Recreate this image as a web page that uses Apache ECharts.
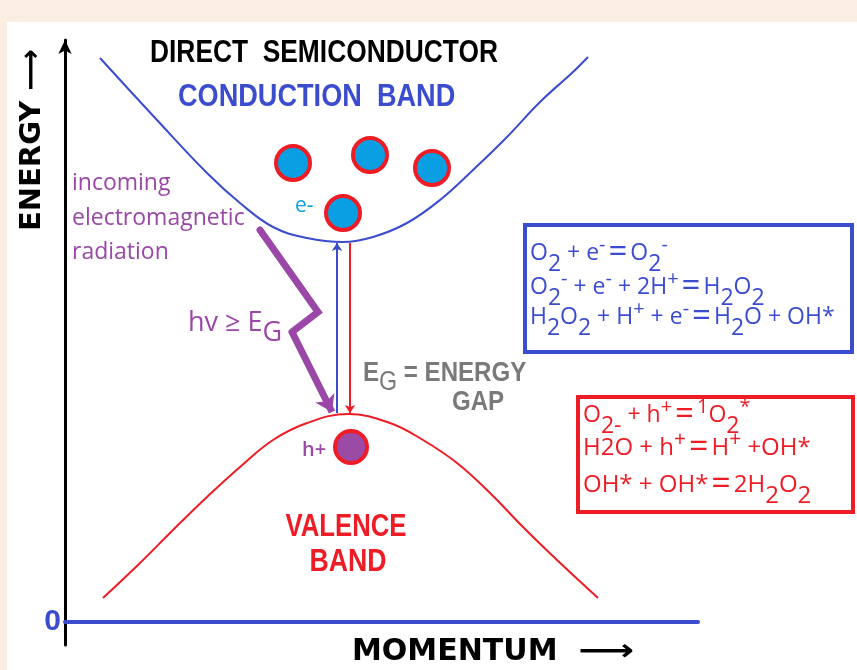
<!DOCTYPE html>
<html><head><meta charset="utf-8">
<script src="https://cdn.jsdelivr.net/npm/echarts@6/dist/echarts.min.js"></script>
<style>html,body{margin:0;padding:0;background:#FAEDE2;}#c{width:857px;height:670px;}</style>
</head><body><div id="c"></div>
<script>
// Diagram data (momentum on x, energy on y; origin at the axes' crossing)
const conductionBand = [[35,564],[92,502],[142,449],[175,419],[208,395],[242,384],[278,380],[308,385],[342,399],[375,422],[408,452],[442,485],[475,520],[508,550],[523,565]];
const valenceBand = [[38,24],[75,59],[108,92],[142,125],[175,155],[208,182],[242,199],[283,208],[325,199],[358,182],[392,159],[425,129],[458,95],[492,62],[533,24]];
const electrons = [[228,459],[305,467],[367,454],[278,409]];
const holes = [[286,175]];
const absorption = [[272,209],[272,379]];
const emission = [[285,379],[285,209]];
const photonPath = [[195,392],[253,310],[227,290],[267,210]];
const energyTicks = [0];

const BLUE = '#3b4ccf', RED = '#ee1c25', PURPLE = '#9a47a8', GREY = '#7a7a7a', CYAN = '#0a9fe3';
const ARIAL = '"Liberation Sans",Arial,sans-serif';
const HUM = '"Open Sans",sans-serif';

function richSet(color, size) {
  return {
    n: {fill: color, color: color, fontSize: size, fontFamily: HUM, lineHeight: 40},
    s: {fill: color, color: color, fontSize: size, fontFamily: HUM, lineHeight: 40, padding: [23,0,0,0]},
    p: {fill: color, color: color, fontSize: size - 3, fontFamily: HUM, lineHeight: 40, padding: [0,0,16,0]},
    q: {fill: color, color: color, fontSize: size + 10, fontFamily: HUM, lineHeight: 40, padding: [0,3,0,3]}
  };
}
function rtext(x, y, text, color, size) {
  return {type: 'text', x: x, y: y, z: 50,
    style: {text: text, textVerticalAlign: 'middle', textAlign: 'left', rich: richSet(color, size), fill: color, font: size + 'px ' + HUM}};
}
function ptext(x, y, text, color, font, align, sx) {
  return {type: 'text', x: x, y: y, z: 50, scaleX: sx || 1,
    style: {text: text, fill: color, font: font, textVerticalAlign: 'middle', textAlign: align || 'left'}};
}

const chart = echarts.init(document.getElementById('c'), null, {renderer: 'canvas'});
const option = {
  backgroundColor: '#FAEDE2',
  animation: false,
  grid: {left: 65, right: 159, top: 40, bottom: 25},
  xAxis: {type: 'value', min: 0, max: 633, splitLine: {show: false},
    axisLine: {show: true, onZero: true, lineStyle: {color: BLUE, width: 4}},
    axisTick: {show: false}, axisLabel: {show: false}},
  yAxis: {type: 'value', min: -23, max: 582, splitLine: {show: false},
    axisLine: {show: true, lineStyle: {color: '#000', width: 3}, symbol: ['none', 'arrow'], symbolSize: [10, 14]},
    axisTick: {show: false},
    axisLabel: {show: true, color: BLUE, fontFamily: ARIAL, fontWeight: 'bold', fontSize: 30, margin: 4,
      formatter: v => energyTicks.indexOf(v) >= 0 ? String(v) : ''}},
  graphic: [
    {type: 'rect', shape: {x: 7, y: 22, width: 850, height: 648}, style: {fill: '#fff'}, z: -100},
    ptext(150, 53, 'DIRECT  SEMICONDUCTOR', '#000', 'bold 31px ' + ARIAL, 'left', 0.85),
    ptext(178, 97, 'CONDUCTION  BAND', BLUE, 'bold 31px ' + ARIAL, 'left', 0.875),
    ptext(72, 183, 'incoming', PURPLE, '23px ' + HUM),
    ptext(72, 218, 'electromagnetic', PURPLE, '23px ' + HUM),
    ptext(72, 252, 'radiation', PURPLE, '23px ' + HUM),
    ptext(295, 206, 'e-', CYAN, '21px ' + HUM),
    ptext(302, 450, 'h+', PURPLE, '600 20px ' + HUM),
    {type: 'text', x: 188, y: 323, z: 50, style: {text: '{n|hv ≥ E}{s|G}', textVerticalAlign: 'middle',
      rich: {n: {fill: PURPLE, fontSize: 27, fontFamily: HUM, lineHeight: 40},
             s: {fill: PURPLE, fontSize: 27, fontFamily: HUM, lineHeight: 40, padding: [20,0,0,0]}}}},
    {type: 'text', x: 363, y: 373, z: 50, scaleX: 0.86, style: {text: '{n|E}{s|G}{n| = ENERGY}', textVerticalAlign: 'middle',
      rich: {n: {fill: GREY, fontSize: 28, fontFamily: ARIAL, fontWeight: 'bold', lineHeight: 40},
             s: {fill: GREY, fontSize: 27, fontFamily: ARIAL, lineHeight: 40, padding: [20,0,0,0]}}}},
    ptext(478, 402, 'GAP', GREY, 'bold 28px ' + ARIAL, 'center', 0.86),
    ptext(346, 527, 'VALENCE', RED, 'bold 31px ' + ARIAL, 'center', 0.83),
    ptext(348, 562, 'BAND', RED, 'bold 31px ' + ARIAL, 'center', 0.86),
    {type: 'text', x: 32, y: 140, rotation: Math.PI / 2, z: 50,
      style: {text: 'ENERGY ⟶', fill: '#000', font: 'bold 29px "DejaVu Sans"', textAlign: 'center', textVerticalAlign: 'middle'}},
    ptext(352, 652, 'MOMENTUM', '#000', 'bold 30px "DejaVu Sans"'),
    ptext(578, 652, '⟶', '#000', 'bold 30px "DejaVu Sans"', 'left', 1.3),
    {type: 'rect', shape: {x: 525, y: 225, width: 327, height: 127}, style: {fill: 'none', stroke: BLUE, lineWidth: 4}, z: 40},
    rtext(530, 253, '{n|O}{s|2}{n| + e}{p|-}{q|=}{n|O}{s|2}{p|-}', BLUE, 23),
    rtext(530, 287, '{n|O}{s|2}{p|-}{n| + e}{p|-}{n| + 2H}{p|+}{q|=}{n|H}{s|2}{n|O}{s|2}', BLUE, 23),
    rtext(530, 317, '{n|H}{s|2}{n|O}{s|2}{n| + H}{p|+}{n| + e}{p|-}{q|=}{n|H}{s|2}{n|O + OH*}', BLUE, 23),
    {type: 'rect', shape: {x: 578, y: 397, width: 275, height: 115}, style: {fill: 'none', stroke: RED, lineWidth: 4}, z: 40},
    rtext(583, 415, '{n|O}{s|2-}{n| + h}{p|+}{q|=}{p|1}{n|O}{s|2}{p|*}', RED, 23),
    rtext(583, 448, '{n|H2O + h}{p|+}{q|=}{n|H}{p|+}{n| +OH*}', RED, 24),
    rtext(583, 485, '{n|OH* + OH*}{q|=}{n|2H}{s|2}{n|O}{s|2}', RED, 24)
  ],
  series: [
    {type: 'line', data: conductionBand, smooth: 0.4, symbol: 'none', lineStyle: {color: BLUE, width: 2}, z: 3},
    {type: 'line', data: valenceBand, smooth: 0.4, symbol: 'none', lineStyle: {color: RED, width: 2}, z: 3},
    {type: 'line', data: photonPath.slice(0, 3), symbol: 'none', lineStyle: {color: PURPLE, width: 7, join: 'miter', cap: 'round'}, z: 4},
    {type: 'lines', coordinateSystem: 'cartesian2d', symbol: ['none', 'arrow'], symbolSize: 16, z: 4,
      lineStyle: {color: PURPLE, width: 7, curveness: 0, opacity: 1},
      data: [{coords: photonPath.slice(2, 4)}]},
    {type: 'lines', coordinateSystem: 'cartesian2d', symbol: ['none', 'arrow'], symbolSize: 8, z: 4,
      lineStyle: {color: BLUE, width: 2, curveness: 0, opacity: 1}, data: [{coords: absorption}]},
    {type: 'lines', coordinateSystem: 'cartesian2d', symbol: ['none', 'arrow'], symbolSize: 8, z: 4,
      lineStyle: {color: RED, width: 2, curveness: 0, opacity: 1}, data: [{coords: emission}]},
    {type: 'scatter', data: electrons, symbol: 'circle', symbolSize: 34, z: 5,
      itemStyle: {color: CYAN, borderColor: RED, borderWidth: 4, opacity: 1}},
    {type: 'scatter', data: holes, symbol: 'circle', symbolSize: 32, z: 5,
      itemStyle: {color: '#9b4aa6', borderColor: RED, borderWidth: 4, opacity: 1}}
  ]
};
chart.setOption(option);
</script>
</body></html>
